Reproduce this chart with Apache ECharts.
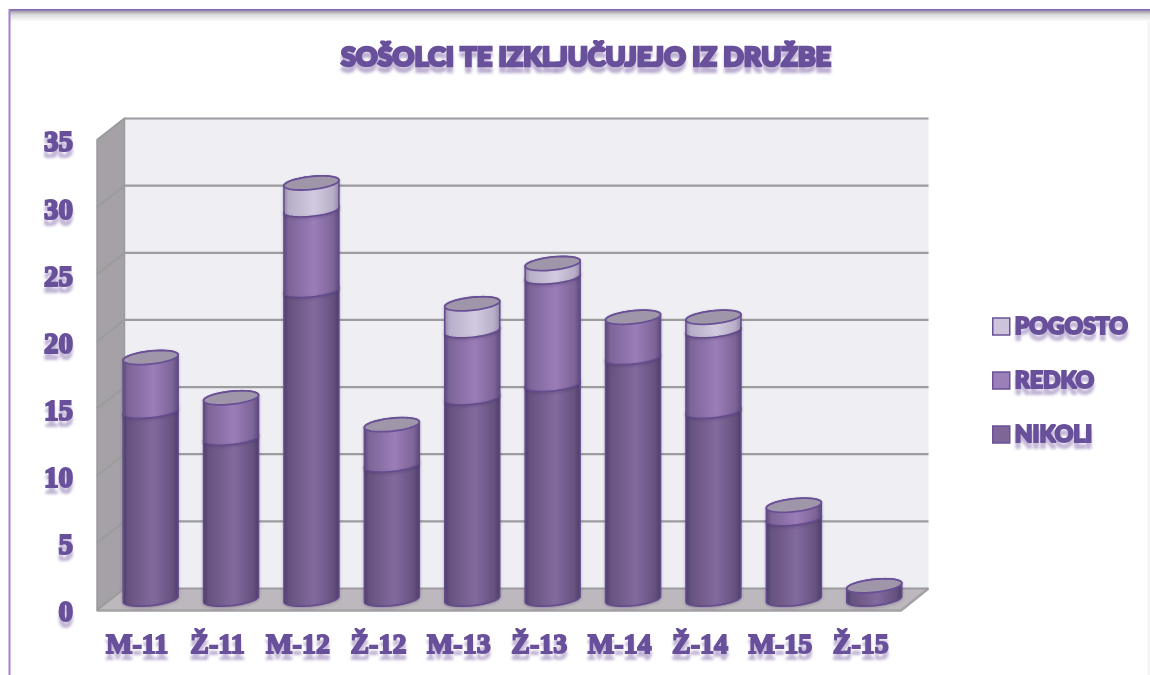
<!DOCTYPE html>
<html><head><meta charset="utf-8">
<style>html,body{margin:0;padding:0;background:#fff}#c{width:1150px;height:675px}</style>
<script src="https://cdn.jsdelivr.net/npm/echarts@6/dist/echarts.min.js"></script>
</head><body><div id="c"></div>
<script>
const categories = ['M-11','Ž-11','M-12','Ž-12','M-13','Ž-13','M-14','Ž-14','M-15','Ž-15'];
const nikoli  = [14,12,23,10,15,16,18,14,6,1];
const redko   = [4,3,6,3,5,8,3,6,1,0];
const pogosto = [0,0,2,0,2,1,0,1,0,0];
const yTicks  = [0,5,10,15,20,25,30,35];
const titleText = 'SOŠOLCI TE IZKLJUČUJEJO IZ DRUŽBE';

const PURPLE = '#69509b';
const DX = 27.5, DY = 21.5;        // depth of the 3D box
const RX = 27.5, RY = 6.5, SHEAR = 0.1;

const chart = echarts.init(document.getElementById('c'), null, {renderer:'canvas'});

function fatText(fontFamily, size, weight, border) {
  return {
    color: PURPLE, fontFamily, fontSize: size, fontWeight: weight,
    textBorderColor: PURPLE, textBorderWidth: border,
    textShadowColor: 'rgba(105,80,155,0.33)', textShadowBlur: 3, textShadowOffsetX: 0, textShadowOffsetY: 6
  };
}

function wallItem(params, api) {
  const v = api.value(1);
  const cs = params.coordSys;
  const left = cs.x, right = cs.x + cs.width;
  const p = api.coord([0, v]);
  const y = p[1];
  const children = [];
  const gridLine = '#9c9c9f';
  if (v === 0) {
    const top = cs.y;
    children.push(
      {type:'polygon', shape:{points:[[left+DX,top-DY],[right+DX,top-DY],[right+DX,y-DY],[left+DX,y-DY]]},
        style:{fill:'#eeeef3'}},
      {type:'polygon', shape:{points:[[left,top],[left+DX,top-DY],[left+DX,y-DY],[left,y]]},
        style:{fill:'#a5a1a6', stroke:'#9c9c9f', lineWidth:1.5}},
      {type:'polygon', shape:{points:[[left,y],[left+DX,y-DY],[right+DX,y-DY],[right,y]]},
        style:{fill:'#bdb8bd'}},
      {type:'polyline', shape:{points:[[left,y+0.5],[right,y+0.5],[right+DX,y-DY]]},
        style:{stroke:'#a3a1a3', lineWidth:2.5, fill:null}}
    );
  }
  children.push({type:'polyline',
    shape:{points:[[left,y],[left+DX,y-DY],[right+DX,y-DY]]},
    style:{stroke:gridLine, lineWidth:2.2, fill:null}});
  return {type:'group', children};
}

function arc(cx, cy, from, to, n) {
  const pts = [];
  for (let i = 0; i <= n; i++) {
    const t = from + (to - from) * i / n;
    pts.push([cx + RX * Math.cos(t), cy + RY * Math.sin(t) - SHEAR * RX * Math.cos(t)]);
  }
  return pts;
}

function cylinderItem(palette) {
  return function (params, api) {
    const i = api.value(0), from = api.value(1), to = api.value(2), isTop = api.value(3);
    const a = api.coord([i, from]), b = api.coord([i, to]);
    const cx = a[0] + DX / 2 - 0.3, y0 = a[1] - DY / 2, y1 = b[1] - DY / 2;
    const pts = arc(cx, y0, 0, Math.PI, 40).concat(arc(cx, y1, Math.PI, 2 * Math.PI, 40));
    const fill = new echarts.graphic.LinearGradient(0, 0, 1, 0, [
      {offset:0, color:palette[0]},
      {offset:0.1, color:palette[1]},
      {offset:0.55, color:palette[2]},
      {offset:0.88, color:palette[1]},
      {offset:1, color:palette[0]}
    ]);
    const children = [{type:'polygon', shape:{points:pts},
      style:{fill, stroke:'#644b8e', lineWidth:1.5, lineJoin:'round',
        shadowColor:'rgba(60,40,90,0.25)', shadowBlur:3, shadowOffsetY:1}}];
    if (isTop) {
      children.push({type:'polygon', shape:{points:arc(cx, y1, 0, 2*Math.PI, 70)},
        style:{fill:'#a096a9', stroke:'#694f95', lineWidth:1.8}});
    }
    return {type:'group', children};
  };
}

function segments(values, below) {
  const out = [];
  values.forEach((v, i) => {
    if (!v) return;
    const start = below.reduce((s, arr) => s + arr[i], 0);
    const total = nikoli[i] + redko[i] + pogosto[i];
    out.push([i, start, start + v, start + v === total ? 1 : 0]);
  });
  return out;
}

function cylinderSeries(name, values, below, palette, legendColor) {
  return {
    name, type:'custom', coordinateSystem:'cartesian2d', clip:false,
    itemStyle:{color:legendColor},
    renderItem: cylinderItem(palette),
    encode:{x:0, y:[1,2]},
    data: segments(values, below), z:3
  };
}

const frame = [
  {type:'rect', left:1147, top:10, shape:{width:3,height:665}, style:{fill:'#f6f6f6'}, silent:true},
  {type:'rect', left:10, top:10, shape:{width:1140,height:12},
    style:{fill:new echarts.graphic.LinearGradient(0,0,0,1,[
      {offset:0,color:'#8f8f96'},{offset:0.4,color:'#dcdce0'},{offset:1,color:'#ffffff'}])}, silent:true},
  {type:'rect', left:9, top:9, shape:{width:1141,height:1.5}, style:{fill:'#8c66bb'}, silent:true},
  {type:'rect', left:8.5, top:9, shape:{width:2,height:666}, style:{fill:'#a27ed0'}, silent:true}
];

const yLabelStyle = fatText('Liberation Serif', 29, 700, 2);

chart.setOption({
  animation:false,
  backgroundColor:'#ffffff',
  graphic: frame,
  title:{
    text:titleText, left:581, top:39, textAlign:'center',
    textStyle: fatText('Lato', 27, 900, 2.6)
  },
  legend:{
    orient:'vertical', left:987, top:309, itemWidth:17, itemHeight:17, itemGap:29,
    icon:'rect', selectedMode:false,
    data:[
      {name:'POGOSTO', itemStyle:{color:'#cbc4da', borderColor:'#6a5298', borderWidth:1.5}},
      {name:'REDKO', itemStyle:{color:'#9a7fb8', borderColor:'#6a5298', borderWidth:1.5}},
      {name:'NIKOLI', itemStyle:{color:'#7f6699', borderColor:'#6a5298', borderWidth:1.5}}
    ],
    textStyle: fatText('Lato', 23, 900, 2)
  },
  grid:{left:97, top:140, width:804, height:470, containLabel:false},
  xAxis:{
    type:'category', data:categories,
    axisLine:{show:false}, axisTick:{show:false}, splitLine:{show:false},
    axisLabel:Object.assign({margin:22, interval:0}, fatText('Liberation Serif', 28, 700, 1.8))
  },
  yAxis:{
    type:'value', min:0, max:35, interval:5,
    axisLine:{show:false}, axisTick:{show:false}, splitLine:{show:false},
    axisLabel:{margin:24, formatter:v => '{n|' + v + '}',
      rich:{n:Object.assign({padding:[8,0,0,0]}, yLabelStyle)}}
  },
  series:[
    {type:'custom', name:'wall', silent:true, clip:false, coordinateSystem:'cartesian2d',
     renderItem:wallItem, encode:{x:0,y:1}, data:yTicks.map(t=>[0,t]), z:1},
    cylinderSeries('NIKOLI', nikoli, [], ['#4f3f6c','#66527f','#826a9e'], '#7f6699'),
    cylinderSeries('REDKO', redko, [nikoli], ['#5f4c7c','#7d6598','#9b7db8'], '#9a7fb8'),
    cylinderSeries('POGOSTO', pogosto, [nikoli, redko], ['#9a8fae','#b8aec8','#d2cbe0'], '#cbc4da')
  ]
});
</script></body></html>
